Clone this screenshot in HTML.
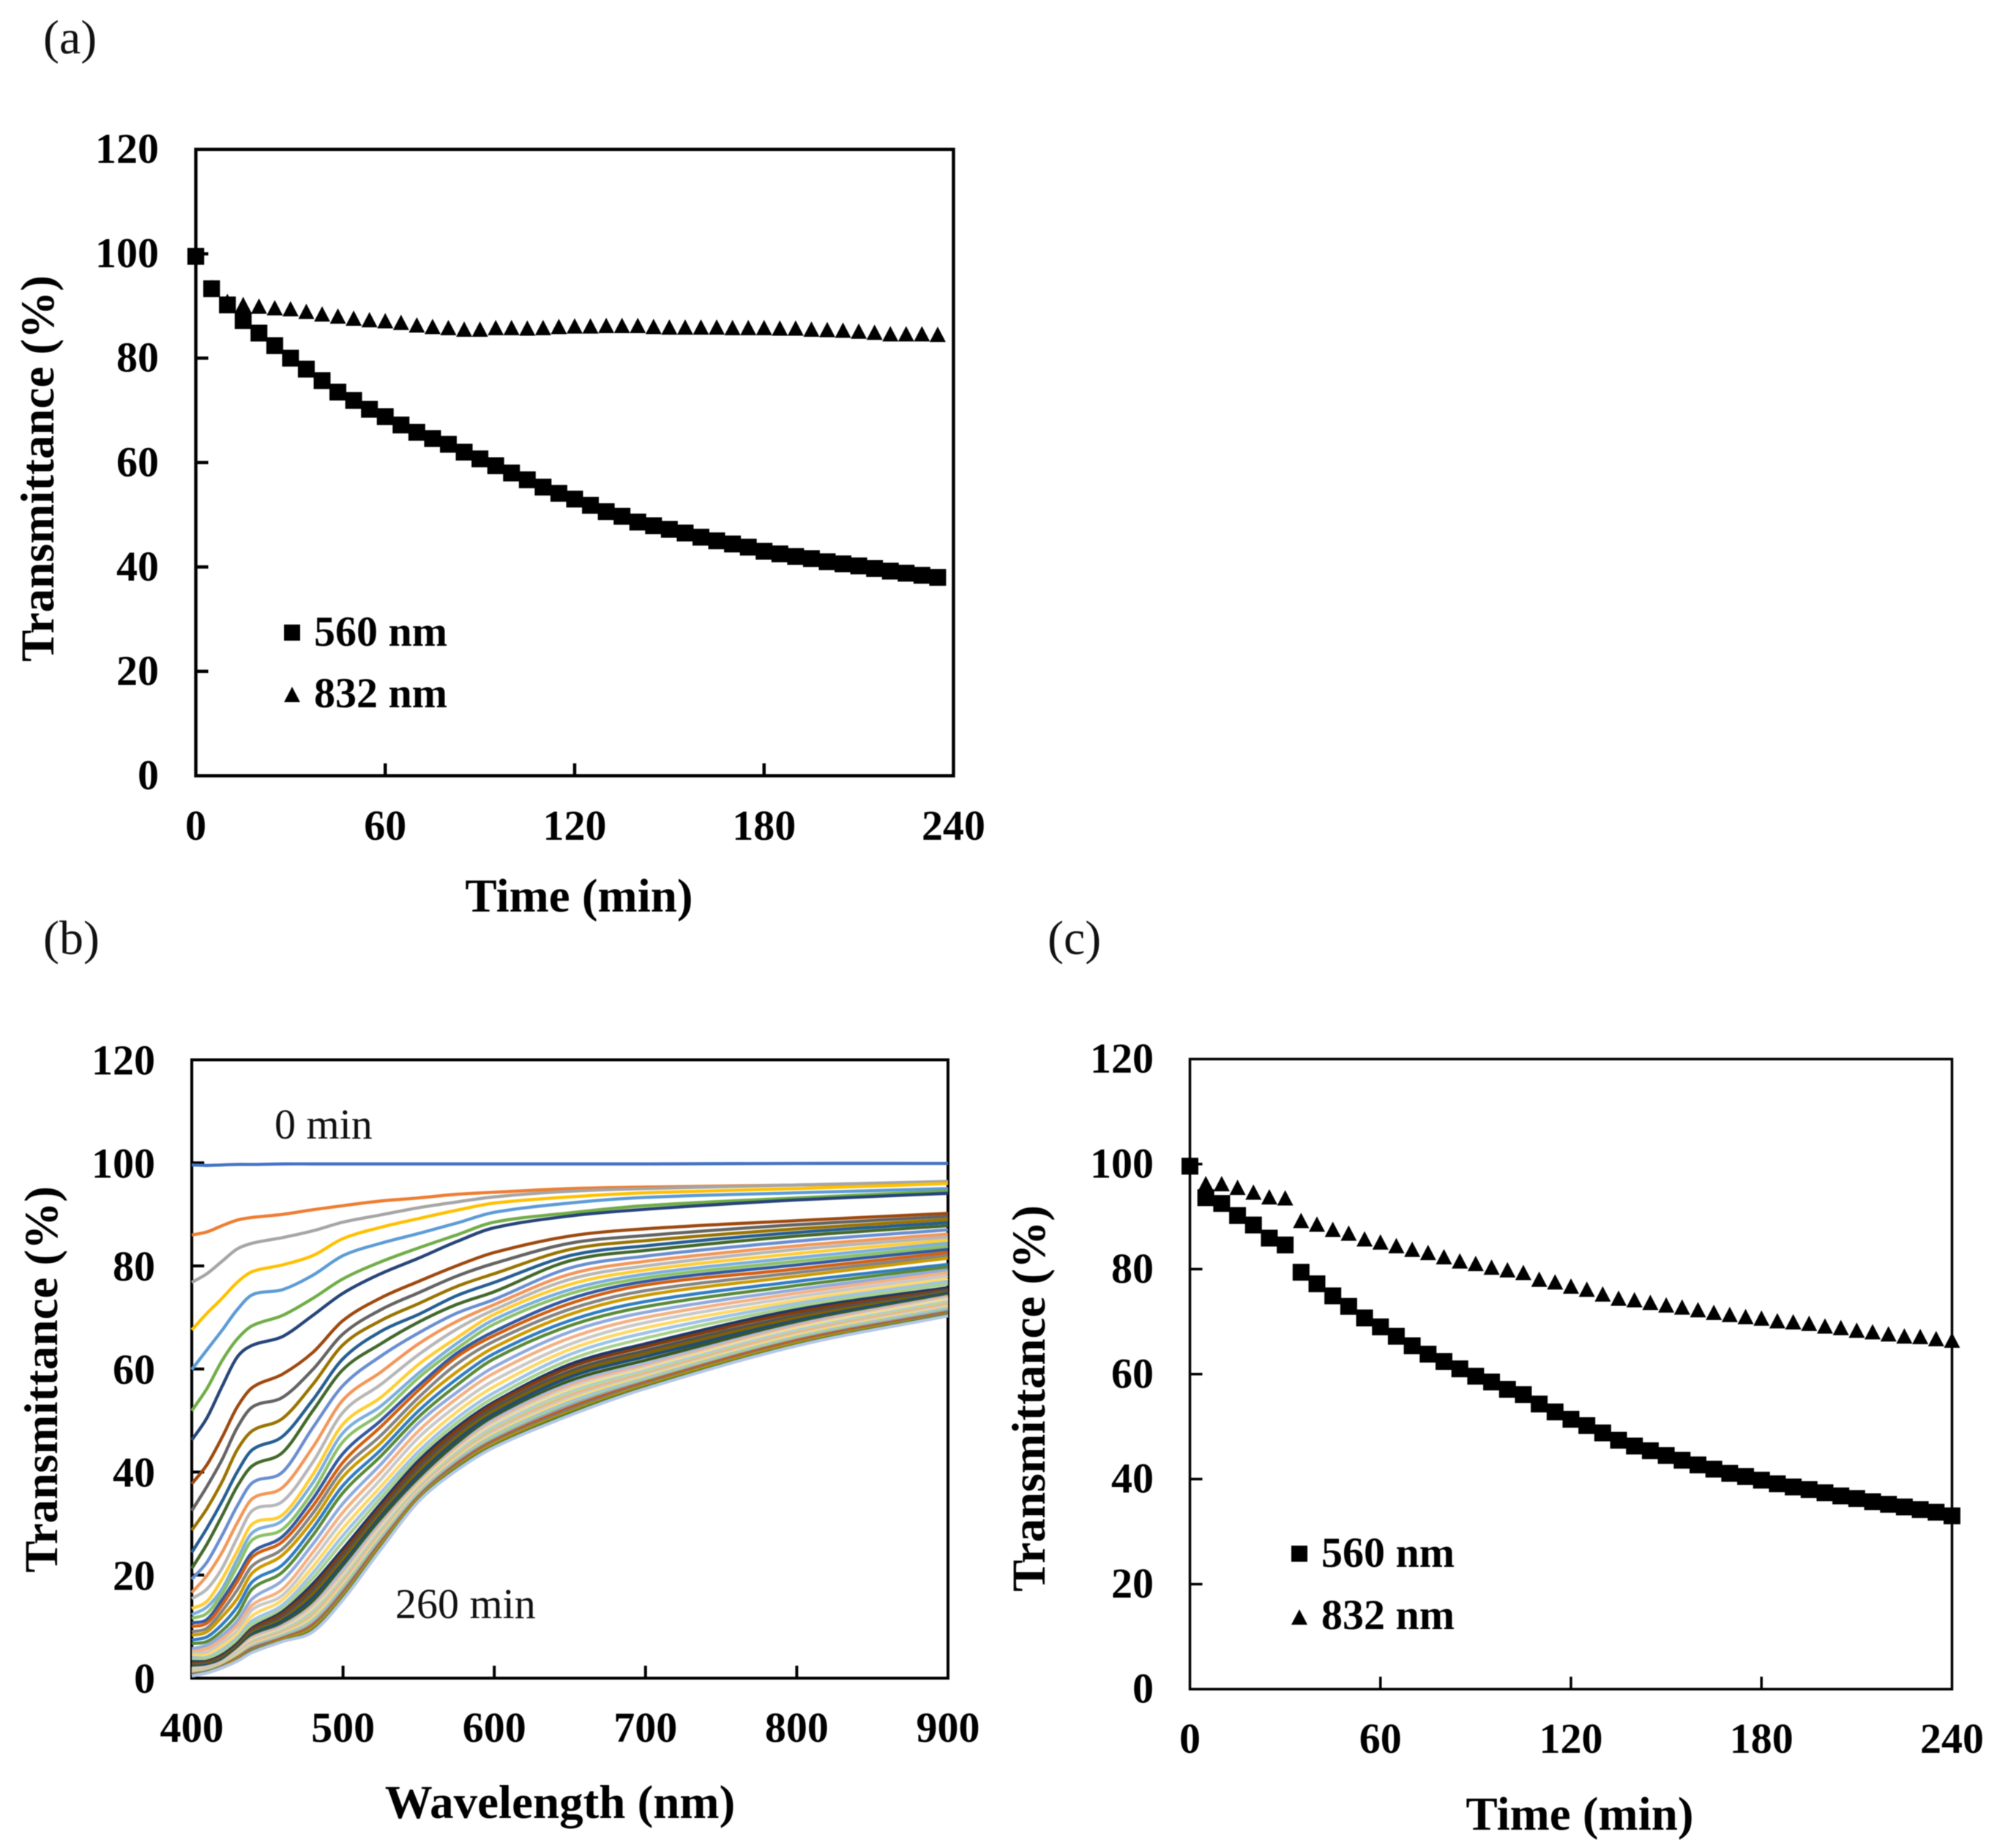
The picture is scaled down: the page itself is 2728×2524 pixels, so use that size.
<!DOCTYPE html>
<html>
<head>
<meta charset="utf-8">
<title>Transmittance charts</title>
<style>
html,body{margin:0;padding:0;background:#fff;}
svg{display:block;filter:blur(0.6px);}
text{font-family:"Liberation Serif",serif;fill:#000;}
.tick{font-size:58px;font-weight:bold;}
.title{font-size:65px;font-weight:bold;}
.legend{font-size:58px;font-weight:bold;}
.panel{font-size:66px;fill:#111;}
.note{font-size:58px;fill:#111;}
</style>
</head>
<body>
<svg id="figure" xmlns="http://www.w3.org/2000/svg" width="2728" height="2524" viewBox="0 0 2728 2524">
  <rect x="0" y="0" width="2728" height="2524" fill="#fff"/>

  <text class="panel" x="59" y="73">(a)</text>
  <g id="panel-a">
    <rect x="267.5" y="204" width="1035" height="855.5" fill="none" stroke="#000" stroke-width="4.5"/>
  </g>
  <text class="title" x="791" y="1245" text-anchor="middle">Time (min)</text>
  <text class="title" transform="translate(73 640) rotate(-90)" text-anchor="middle">Transmittance (%)</text>
  <rect x="388" y="853" width="22" height="22" fill="#000"/>
  <text class="legend" x="429" y="882">560 nm</text>
  <polygon points="399,938 388,959 410,959" fill="#000"/>
  <text class="legend" x="429" y="966">832 nm</text>

  <text class="panel" x="59" y="1303">(b)</text>
  <g id="panel-b">
    <rect x="262" y="1447.5" width="1033" height="844.5" fill="none" stroke="#000" stroke-width="4"/>
  </g>
  <text class="title" x="765" y="2483" text-anchor="middle">Wavelength (nm)</text>
  <text class="title" transform="translate(78 1884) rotate(-90)" text-anchor="middle">Transmittance (%)</text>
  <text class="note" x="375" y="1555">0 min</text>
  <text class="note" x="540" y="2210">260 min</text>

  <text class="panel" x="1431" y="1303">(c)</text>
  <g id="panel-c">
    <rect x="1625.5" y="1446.5" width="1041" height="860.5" fill="none" stroke="#000" stroke-width="3.5"/>
  </g>
  <text class="title" x="2158" y="2499" text-anchor="middle">Time (min)</text>
  <text class="title" transform="translate(1427 1910) rotate(-90)" text-anchor="middle">Transmittance (%)</text>
  <rect x="1764" y="2111" width="22" height="22" fill="#000"/>
  <text class="legend" x="1805" y="2140">560 nm</text>
  <polygon points="1775,2198 1764,2219 1786,2219" fill="#000"/>
  <text class="legend" x="1805" y="2225">832 nm</text>
</svg>

<script>
// ---- shared tick labels ----
const yTickValues = [0, 20, 40, 60, 80, 100, 120];
const timeTickValues = [0, 60, 120, 180, 240];
const wavelengthTickValues = [400, 500, 600, 700, 800, 900];

// ---- panel (a) ----
const panelATime = [0,5,10,15,20,25,30,35,40,45,50,55,60,65,70,75,80,85,90,95,100,105,110,115,120,125,130,135,140,145,150,155,160,165,170,175,180,185,190,195,200,205,210,215,220,225,230,235];
const panelA560 = [99.5,93.3,90.2,87.2,84.8,82.4,80,77.9,75.7,73.5,71.9,70.2,68.8,67.2,65.8,64.6,63.5,62,60.7,59.4,58,56.7,55.3,54.1,53,51.8,50.6,49.7,48.6,47.9,47.2,46.5,45.7,45,44.4,43.8,43,42.5,42,41.6,41,40.6,40.2,39.7,39.2,38.8,38.4,38];
const panelA832 = [100,93.5,90.8,90.2,89.9,89.6,89.4,88.9,88.4,88,87.6,87.3,87.1,86.8,86.3,86,85.8,85.5,85.5,85.8,85.8,85.7,85.8,86,86.1,86.1,86.2,86.2,86.2,86,85.9,85.9,85.9,85.9,85.8,85.8,85.8,85.7,85.7,85.5,85.4,85.3,85.1,84.9,84.6,84.6,84.6,84.5];

// ---- panel (c) ----
const panelCTime = [0,5,10,15,20,25,30,35,40,45,50,55,60,65,70,75,80,85,90,95,100,105,110,115,120,125,130,135,140,145,150,155,160,165,170,175,180,185,190,195,200,205,210,215,220,225,230,235,240];
const panelC560 = [99.6,93.6,92.5,90.2,88.4,85.9,84.6,79.4,77.2,74.9,72.9,70.7,69,67.2,65.4,63.8,62.4,61,59.6,58.5,57.1,56.1,54.3,52.8,51.4,50.2,48.8,47.4,46.3,45.4,44.5,43.6,42.7,41.9,41.1,40.5,39.8,39.1,38.5,38,37.4,36.8,36.3,35.7,35.2,34.7,34.2,33.7,33];
const panelC832 = [100,96.2,96.2,95.5,94.6,93.7,93.5,89.2,88.5,87.5,86.8,85.7,85.1,84.4,83.7,83.1,82.3,81.5,81,80.3,79.8,79.3,78,77.5,76.7,76.1,75.2,74.4,74.1,73.6,73.1,72.7,72.2,71.7,71.3,70.9,70.6,70.1,69.9,69.6,69.1,68.8,68.3,68,67.6,67.2,67.1,66.7,66.4];

// ---- panel (b): one row per scan, 0 min to 260 min ----
const panelBWavelengths = [400,410,420,430,440,460,480,500,525,550,575,600,650,700,800,900];
const panelBScans = [
[99.6,99.5,99.6,99.7,99.7,99.8,99.8,99.8,99.8,99.8,99.8,99.8,99.8,99.8,99.9,99.9],
[86,86.6,87.8,88.9,89.4,90,90.9,91.7,92.6,93.2,93.9,94.3,95,95.3,95.7,96.2],
[76.8,78.5,80.9,83.3,84.4,85.5,86.8,88.5,89.9,91.3,92.4,93.4,94.5,95,95.7,96.4],
[67.6,70.8,73.7,76.8,78.9,80.2,82,85.3,87.5,89.2,90.8,92.2,93.4,94.2,95,96],
[59.9,63.7,67.5,71.5,74.4,75.4,78.2,82,84.4,86.3,88.3,90.4,92.2,93.3,94.2,95],
[51.9,56.2,61.6,65.8,68.4,70.4,73.7,77.5,80.8,83.5,86,88.5,90.3,91.7,93.2,94.5],
[46.2,50.5,56.6,62.3,64.6,66.3,70.4,74.7,78.5,81.5,84.7,87.4,89.7,91,92.8,94.1],
[37.7,41.4,46.7,52.6,56.4,59,63.2,69.4,73.8,77,80,82.6,85.8,87.2,88.8,90.2],
[32.5,37.2,42.4,48.6,52.6,54.5,59.9,66.8,71.5,74.8,78,80.5,84.4,85.9,88,89.6],
[28.7,32.9,38.1,44.3,48,50.4,57,64.7,69.4,72.7,76,78.5,83.2,84.9,87.2,89],
[24.4,29.1,34.3,40,44.3,46.9,54,62,67.3,70.6,74.2,76.8,82,83.9,86.5,88.4],
[21.3,26,31.5,37.2,41.2,43.8,51.9,59.9,64.9,69.1,72.5,75,81,83,85.8,87.8],
[19.2,22.5,27.7,33.4,37.9,40,48.6,56.8,62.5,67,70.8,73.5,79.6,81.9,84.8,87],
[16.6,19.9,24.4,30.1,34.8,37,44.8,54,59.4,64.9,69.2,72.5,78.4,80.9,83.9,86.2],
[15.4,17.3,21.3,27.2,32.5,34.3,41.9,51.6,57,62.8,67.7,71.5,77.4,80,83.2,85.6],
[13.5,14.9,19.2,24.6,29.9,31.7,39.5,49.3,54.5,60.9,66,70.6,76.4,79.2,82.4,85],
[12.3,13.8,17.3,23,28.2,30.6,37.9,47.6,52.8,59.2,64.9,69.6,75.4,78.4,81.6,84.4],
[11.6,12.6,16.4,21.6,26.8,28.9,36.2,45.9,51.4,58.3,63.9,68.7,74.6,77.7,80.9,83.8],
[10.7,11.4,15.2,19.7,24.4,27.5,34.8,43.6,50,56.8,63,67.3,73.6,77,80.2,83.2],
[10,10.7,14.2,18.7,23.5,26.5,33.4,41.9,48.8,55.9,62.3,66.5,72.7,76.3,79.4,82.6],
[9,9.7,13,17.1,21.8,25.1,32,40.5,47.1,54.5,60.9,65.4,71.6,75.2,78.7,82],
[8.3,9,11.9,15.4,20.4,23.9,30.6,39.1,45.7,53.3,59.4,64.2,70.6,74.3,78,81.5],
[7.4,8,10.4,13.8,18.7,22,29.1,37.4,44.3,51.9,58,63,69.4,73.1,77,80.3],
[6.7,7.1,9.2,12.3,17.3,20.6,27.7,36,43.1,50.7,56.8,62,68.4,72.1,76.2,79.8],
[5.7,6.4,8.3,11.1,15.4,19,26,33.9,41.5,49.5,55.4,60.4,67.2,71,75.4,79.2],
[5.2,5.7,7.6,10.2,14.2,17.3,24.4,32.2,40,48,54.2,59.2,66,70,74.7,78.7],
[4.8,5,6.9,9.2,13.3,16.1,23,30.6,38.6,46.7,52.8,57.8,64.8,69,74,78.1],
[4.4,4.5,6.2,8.5,12.1,15.2,21.6,29.1,37.2,45.2,51.6,56.6,63.8,68,73.3,77.5],
[4,4,5.5,7.8,11.1,14.2,20.4,27.7,36,44,50.4,55.4,62.8,67,72.7,77],
[3.6,3.8,5,7.4,10.4,13.5,19.4,26.5,35,43.1,49.5,54.5,61.8,66,72.1,76.5],
[3.2,3.3,4.5,6.7,9.7,12.9,18.3,25.1,33.9,42.2,48.6,53.6,60.9,64.9,71.5,75.8],
[2.9,3.1,4.2,6.4,9.4,12.5,17.6,24.4,33.2,41.5,48,53.2,60.3,64.3,71,75.4],
[2.7,2.9,4,6.2,9.1,12,17,23.7,32.6,40.8,47.3,52.5,59.6,63.6,70.4,75.2],
[2.5,2.7,3.8,6,8.8,11.5,16.3,23,32,40.1,46.7,51.9,59,63,69.9,74.9],
[2.3,2.5,3.6,5.8,8.5,11.1,15.6,22.3,31.4,39.4,46.1,51.3,58.4,62.4,69.4,74.7],
[2.1,2.3,3.4,5.6,8.2,10.6,14.9,21.7,30.8,38.7,45.5,50.7,57.7,61.7,69,74.4],
[1.9,2.2,3.2,5.4,7.9,10.2,14.2,21,30.1,38.1,44.8,50.2,57.1,61,68.6,74.1],
[1.8,2.1,3.1,5.3,7.7,9.9,13.9,20.3,29.7,37.8,44.5,49.8,56.7,60.6,68.3,73.9],
[1.7,2,3,5.1,7.5,9.7,13.6,20,29.4,37.5,44.2,49.5,56.3,60.3,68,73.7],
[1.6,1.9,2.9,5,7.3,9.5,13.2,19.6,29,37.3,44,49.1,55.9,60,67.8,73.4],
[1.5,1.9,2.9,4.9,7.1,9.3,12.9,19.3,28.7,37,43.7,48.8,55.5,59.7,67.5,73.1],
[1.4,1.8,2.8,4.7,6.9,9.1,12.6,19,28.4,36.8,43.4,48.4,55.2,59.4,67.2,72.9],
[1.3,1.7,2.7,4.6,6.8,8.9,12.2,18.7,28.1,36.6,43.1,48.1,54.8,59.1,67,72.6],
[1.2,1.6,2.6,4.5,6.6,8.7,11.9,18.3,27.8,36.4,42.8,47.8,54.4,58.8,66.7,72.3],
[1.1,1.5,2.6,4.4,6.4,8.5,11.6,18,27.5,36.1,42.6,47.4,54,58.5,66.5,72],
[1,1.4,2.5,4.2,6.2,8.3,11.2,17.6,27.2,35.9,42.3,47.1,53.6,58.2,66.2,71.8],
[0.9,1.4,2.4,4.1,6,8.1,10.9,17.3,26.9,35.6,42,46.8,53.2,57.9,66,71.5],
[0.8,1.3,2.3,4,5.9,7.9,10.6,17,26.6,35.4,41.8,46.4,52.9,57.6,65.7,71.3],
[0.7,1.2,2.3,3.9,5.7,7.7,10.3,16.6,26.3,35.2,41.5,46.1,52.5,57.4,65.5,71],
[0.6,1.2,2.2,3.7,5.5,7.5,10,16.3,26,35,41.2,45.8,52.1,57.1,65.2,70.8],
[0.5,1.1,2.1,3.6,5.3,7.4,9.7,15.9,25.7,34.8,40.9,45.5,51.7,56.8,65,70.6],
[0.45,1.05,2.05,3.4,5.2,7.2,9.3,15.5,25.3,34.5,40.6,45.1,51.4,56.5,64.7,70.5],
[0.4,1,2,3.3,5,7.1,9,15.2,25,34.3,40.3,44.8,51,56.2,64.5,70.3]
];
const scanColors = ['#4472C4','#ED7D31','#A5A5A5','#FFC000','#5B9BD5','#70AD47','#264478','#9E480E','#636363','#997300','#255E91','#43682B','#698ED0','#F1975A','#B7B7B7','#FFCD33','#7CAFDD','#8CC168','#335AA1','#D26012','#848484','#CC9A00','#327DC2','#5A8A39','#8FAADC','#F4B183','#C9C9C9','#FFD966','#9DC3E6','#A9D18E','#203864','#843C0C','#525252','#7F6000','#1F4E79','#385723','#A6BCE4','#F4B084','#D0D0D0','#FFDF80','#A9CCEB','#B5D99C','#F4B183','#C9C9C9','#FFD966','#9DC3E6','#A9D18E','#8FA5C8','#C55A11','#7B7B7B','#BF9000','#548235','#B4C7E7'];

// ---- helpers ----
const SVG_NS = 'http://www.w3.org/2000/svg';
function make(tag, attrs, parent) {
  const el = document.createElementNS(SVG_NS, tag);
  for (const k in attrs) el.setAttribute(k, attrs[k]);
  parent.appendChild(el);
  return el;
}
function linearScale(d0, d1, r0, r1) {
  return function (v) { return r0 + (v - d0) * (r1 - r0) / (d1 - d0); };
}
function smoothPath(points) {
  let d = 'M' + points[0][0].toFixed(1) + ' ' + points[0][1].toFixed(1);
  for (let i = 0; i < points.length - 1; i++) {
    const p0 = points[Math.max(i - 1, 0)];
    const p1 = points[i];
    const p2 = points[i + 1];
    const p3 = points[Math.min(i + 2, points.length - 1)];
    const h = p2[0] - p1[0];
    const m1 = (p2[1] - p0[1]) / (p2[0] - p0[0]);
    const m2 = (p3[1] - p1[1]) / (p3[0] - p1[0]);
    d += 'C' + (p1[0] + h / 3).toFixed(1) + ' ' + (p1[1] + m1 * h / 3).toFixed(1) + ' ' +
         (p2[0] - h / 3).toFixed(1) + ' ' + (p2[1] - m2 * h / 3).toFixed(1) + ' ' +
         p2[0].toFixed(1) + ' ' + p2[1].toFixed(1);
  }
  return d;
}
function drawAxes(group, prefix, xScale, yScale, xTicks, opts) {
  const x0 = xScale(xTicks[0]);
  const y0 = yScale(0);
  yTickValues.forEach(function (v) {
    const y = yScale(v);
    if (v !== 0 && v !== 120) {
      const tick = make('line', {x1: x0, x2: x0 + 17, y1: y, y2: y, stroke: '#000', 'stroke-width': opts.tickWidth}, group);
      
      
    }
    const label = make('text', {x: opts.yLabelRight, y: y + opts.yLabelDrop, 'text-anchor': 'end', 'class': 'tick'}, group);
    label.textContent = String(v);
    
    
  });
  xTicks.forEach(function (v, i) {
    const x = xScale(v);
    if (i !== 0 && i !== xTicks.length - 1) {
      const tick = make('line', {x1: x, x2: x, y1: y0, y2: y0 - 17, stroke: '#000', 'stroke-width': opts.tickWidth}, group);
      
      
    }
    const label = make('text', {x: x, y: opts.xLabelBaseline, 'text-anchor': 'middle', 'class': 'tick'}, group);
    label.textContent = String(v);
    
    
  });
}
function drawSquares(group, prefix, times, values, xScale, yScale) {
  times.forEach(function (t, i) {
    const mark = make('rect', {x: xScale(t) - 11.5, y: yScale(values[i]) - 11.5, width: 23, height: 23, fill: '#000'}, group);
    
    
  });
}
function drawTriangles(group, prefix, times, values, xScale, yScale) {
  times.forEach(function (t, i) {
    const x = xScale(t);
    const y = yScale(values[i]);
    const pts = x + ',' + (y - 11) + ' ' + (x - 11) + ',' + (y + 10) + ' ' + (x + 11) + ',' + (y + 10);
    const mark = make('polygon', {points: pts, fill: '#000'}, group);
    
    
  });
}

// ---- panel (a) ----
(function () {
  const g = document.getElementById('panel-a');
  const x = linearScale(0, 240, 267.5, 1302.5);
  const y = linearScale(0, 120, 1059.5, 204);
  drawAxes(g, 'panel-a', x, y, timeTickValues, {tickWidth: 4.5, yLabelRight: 217, yLabelDrop: 18.5, xLabelBaseline: 1147});
  drawTriangles(g, 'panel-a', panelATime, panelA832, x, y);
  drawSquares(g, 'panel-a', panelATime, panelA560, x, y);
})();

// ---- panel (b) ----
(function () {
  const g = document.getElementById('panel-b');
  const x = linearScale(400, 900, 262, 1295);
  const y = linearScale(0, 120, 2292, 1447.5);
  drawAxes(g, 'panel-b', x, y, wavelengthTickValues, {tickWidth: 4, yLabelRight: 212, yLabelDrop: 20, xLabelBaseline: 2379});
  panelBScans.forEach(function (scan, i) {
    const pts = scan.map(function (v, j) { return [x(panelBWavelengths[j]), y(v)]; });
    const line = make('path', {d: smoothPath(pts), fill: 'none', stroke: scanColors[i % scanColors.length], 'stroke-width': 4.3}, g);
    
    
  });
})();

// ---- panel (c) ----
(function () {
  const g = document.getElementById('panel-c');
  const x = linearScale(0, 240, 1625.5, 2666.5);
  const y = linearScale(0, 120, 2307, 1446.5);
  drawAxes(g, 'panel-c', x, y, timeTickValues, {tickWidth: 3.5, yLabelRight: 1576, yLabelDrop: 18.5, xLabelBaseline: 2394});
  drawTriangles(g, 'panel-c', panelCTime, panelC832, x, y);
  drawSquares(g, 'panel-c', panelCTime, panelC560, x, y);
})();
</script>
</body>
</html>
